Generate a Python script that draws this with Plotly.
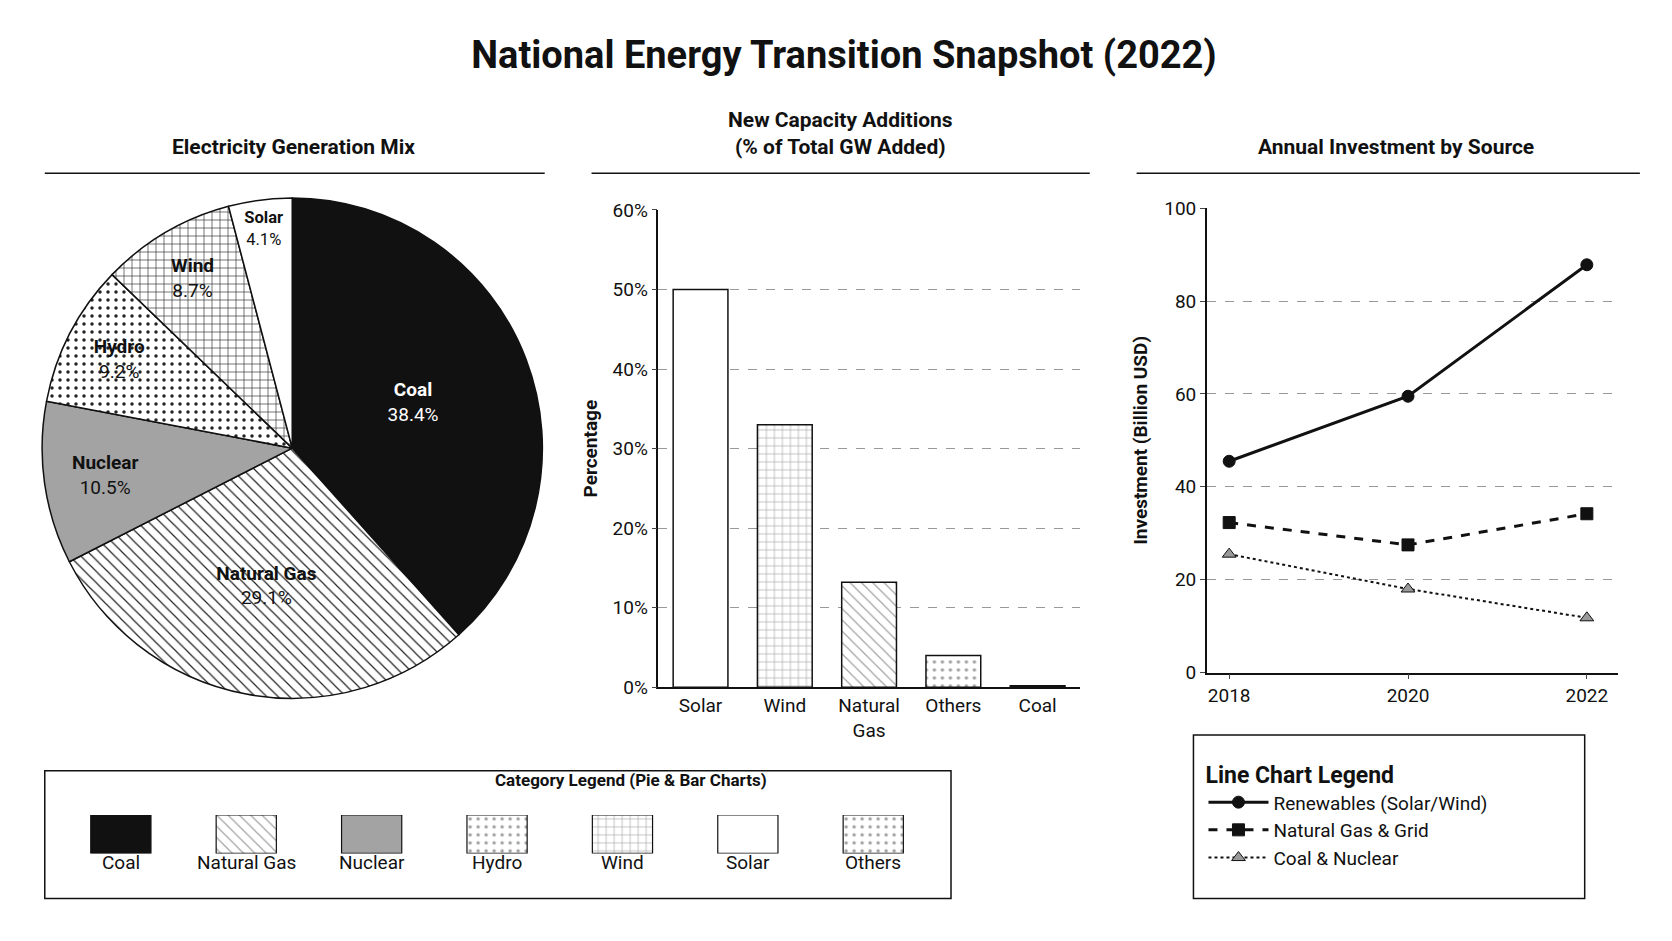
import plotly.graph_objects as go

# pie data
pie_labels = ["Coal", "Natural Gas", "Nuclear", "Hydro", "Wind", "Solar"]
pie_values = [38.4, 29.1, 10.5, 9.2, 8.7, 4.1]

# bar data
bar_cats = ["Solar", "Wind", "Natural<br>Gas", "Others", "Coal"]
bar_values = [50.0, 33.0, 13.2, 4.0, 0.2]

# line data
years = [2018, 2020, 2022]
renewables = [45.5, 59.5, 87.8]
gas_grid = [32.3, 27.5, 34.2]
coal_nuclear = [25.5, 18.0, 11.8]

legend_cats = ["Coal", "Natural Gas", "Nuclear", "Hydro", "Wind", "Solar", "Others"]

FONT = "Roboto"
styles = {
    "Coal": dict(color="#111111", shape=""),
    "Natural Gas": dict(color="white", shape="\\"),
    "Nuclear": dict(color="#a3a3a3", shape=""),
    "Hydro": dict(color="white", shape="."),
    "Wind": dict(color="white", shape="+"),
    "Solar": dict(color="white", shape=""),
    "Others": dict(color="white", shape="."),
}

def pattern(name):
    s = styles[name]
    return dict(shape=s["shape"], fgcolor="#222222", bgcolor=s["color"], size=8, solidity=0.15)

fig = go.Figure()

fig.add_trace(go.Pie(
    labels=pie_labels, values=pie_values, sort=False, direction="clockwise", rotation=0,
    domain=dict(x=[0.02, 0.32], y=[0.26, 0.805]),
    marker=dict(colors=[styles[l]["color"] for l in pie_labels],
                pattern=dict(shape=[styles[l]["shape"] for l in pie_labels], fgcolor="#222222",
                             size=8, solidity=0.15),
                line=dict(color="#111111", width=1.5)),
    texttemplate="<b>%{label}</b><br>%{value:.1f}%", textposition="inside",
    insidetextorientation="horizontal",
    textfont=dict(family=FONT, size=19, color=["white"] + ["#111111"] * 5),
    showlegend=False, hoverinfo="skip"))

bar_names = ["Solar", "Wind", "Natural Gas", "Others", "Coal"]
fig.add_trace(go.Bar(
    x=bar_cats, y=bar_values, xaxis="x", yaxis="y", width=0.65,
    marker=dict(color=[styles[n]["color"] for n in bar_names],
                pattern=dict(shape=[styles[n]["shape"] for n in bar_names], fgcolor="#222222",
                             size=8, solidity=0.15),
                line=dict(color="#111111", width=1.5)),
    showlegend=False))

line_specs = [
    ("Renewables (Solar/Wind)", renewables, "solid", "circle", "#111111"),
    ("Natural Gas & Grid", gas_grid, "dash", "square", "#111111"),
    ("Coal & Nuclear", coal_nuclear, "dot", "triangle-up", "#999999"),
]
for name, ys, dash, sym, mc in line_specs:
    fig.add_trace(go.Scatter(
        x=years, y=ys, name=name, xaxis="x2", yaxis="y2", mode="lines+markers",
        line=dict(color="#111111", width=3 if dash != "dot" else 2, dash=dash),
        marker=dict(symbol=sym, size=12, color=mc, line=dict(color="#111111", width=1))))

# category legend swatches
fig.add_trace(go.Bar(
    x=legend_cats, y=[1] * len(legend_cats), xaxis="x3", yaxis="y3", width=0.48,
    marker=dict(color=[styles[n]["color"] for n in legend_cats],
                pattern=dict(shape=[styles[n]["shape"] for n in legend_cats], fgcolor="#222222",
                             size=8, solidity=0.15),
                line=dict(color="#111111", width=1.2)),
    showlegend=False, hoverinfo="skip"))

fig.update_layout(
    width=1672, height=941, margin=dict(l=0, r=0, t=0, b=0),
    paper_bgcolor="white", plot_bgcolor="white",
    font=dict(family=FONT, color="#111111", size=18),
    title=dict(text="<b>National Energy Transition Snapshot (2022)</b>", x=0.5, y=0.965,
               xanchor="center", font=dict(size=38, family=FONT)),
    xaxis=dict(domain=[0.389, 0.641], anchor="y", showline=True, linecolor="#111111",
               linewidth=1.5, tickfont=dict(size=19)),
    yaxis=dict(domain=[0.272, 0.792], anchor="x", range=[0, 60], dtick=10, ticksuffix="%",
               showgrid=True, gridcolor="#999999", griddash="dash", showline=True,
               linecolor="#111111", linewidth=1.5, ticks="outside", tickfont=dict(size=19),
               title=dict(text="<b>Percentage</b>", font=dict(size=19), standoff=10), zeroline=False),
    xaxis2=dict(domain=[0.717, 0.963], anchor="y2", range=[2017.75, 2022.35],
                tickvals=years, showline=True, linecolor="#111111", linewidth=1.5,
                ticks="outside", tickfont=dict(size=19), showgrid=False),
    yaxis2=dict(domain=[0.288, 0.794], anchor="x2", range=[0, 100], dtick=20,
                showgrid=True, gridcolor="#999999", griddash="dash", showline=True,
                linecolor="#111111", linewidth=1.5, ticks="outside", tickfont=dict(size=19),
                title=dict(text="<b>Investment (Billion USD)</b>", font=dict(size=19), standoff=12),
                zeroline=False),
    xaxis3=dict(domain=[0.03, 0.555], anchor="y3", visible=False),
    yaxis3=dict(domain=[0.091, 0.133], anchor="x3", range=[0, 1], visible=False),
    legend=dict(x=0.715, y=0.2, xanchor="left", yanchor="top", bgcolor="rgba(0,0,0,0)",
                title=dict(text="<b>Line Chart Legend</b>", side="top"),
                font=dict(size=19), itemwidth=60),
    bargap=0.3,
)

shapes = [
    dict(type="line", xref="paper", yref="paper", x0=0.022, x1=0.321, y0=0.832, y1=0.832,
         line=dict(color="#111111", width=1.5)),
    dict(type="line", xref="paper", yref="paper", x0=0.349, x1=0.647, y0=0.832, y1=0.832,
         line=dict(color="#111111", width=1.5)),
    dict(type="line", xref="paper", yref="paper", x0=0.675, x1=0.976, y0=0.832, y1=0.832,
         line=dict(color="#111111", width=1.5)),
    dict(type="rect", xref="paper", yref="paper", x0=0.022, x1=0.564, y0=0.042, y1=0.181,
         line=dict(color="#111111", width=1.5)),
    dict(type="rect", xref="paper", yref="paper", x0=0.709, x1=0.943, y0=0.042, y1=0.22,
         line=dict(color="#111111", width=1.5)),
]
fig.update_layout(shapes=shapes)

annotations = [
    dict(text="<b>Electricity Generation Mix</b>", x=0.171, y=0.845),
    dict(text="<b>New Capacity Additions<br>(% of Total GW Added)</b>", x=0.498, y=0.845),
    dict(text="<b>Annual Investment by Source</b>", x=0.83, y=0.845),
]
for a in annotations:
    fig.add_annotation(xref="paper", yref="paper", xanchor="center", yanchor="bottom",
                       showarrow=False, font=dict(size=21), **a)
fig.add_annotation(text="<b>Category Legend (Pie & Bar Charts)</b>", xref="paper", yref="paper",
                   x=0.29, y=0.158, showarrow=False, font=dict(size=17))
for cat in legend_cats:
    fig.add_annotation(text=cat, xref="x3", yref="paper", x=cat, y=0.066,
                       showarrow=False, font=dict(size=19))

fig.write_html("out.html")
